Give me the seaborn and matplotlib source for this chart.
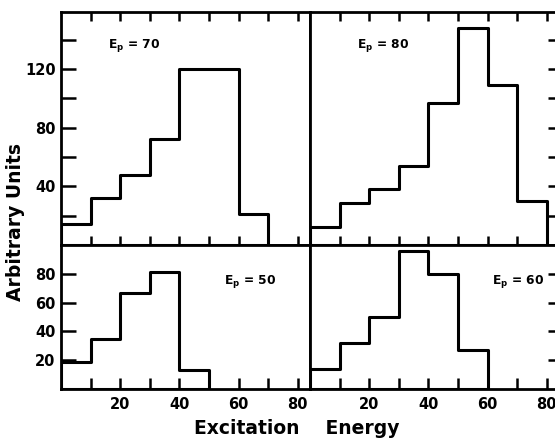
import numpy as np
import pandas as pd
import matplotlib
matplotlib.use("Agg")
import matplotlib.pyplot as plt
import seaborn as sns

sns.set_style("ticks")
plt.rcParams['font.family'] = ['DejaVu Sans']
plt.rcParams['mathtext.fontset'] = 'dejavusans'
plt.rcParams['text.color'] = 'black'
plt.rcParams['xtick.color'] = 'black'
plt.rcParams['ytick.color'] = 'black'
plt.rcParams['xtick.labelcolor'] = 'black'
plt.rcParams['ytick.labelcolor'] = 'black'

# ---- data (bin width 10, first bin starts at 0) ----
bin_width = 10
ep70 = [14, 32, 48, 72, 120, 120, 21]
ep80 = [12, 29, 38, 54, 97, 148, 109, 30]
ep50 = [19, 35, 67, 81, 13]
ep60 = [14, 32, 50, 96, 80, 27]

x_ticks = [10, 20, 30, 40, 50, 60, 70, 80]
x_labels = ["", "20", "", "40", "", "60", "", "80"]
top_major = [40, 80, 120]
top_minor = [20, 60, 100, 140]
bottom_major = [20, 40, 60, 80]

xlabel = "Excitation    Energy"
ylabel = "Arbitrary Units"

W, H = 555, 438
fig = plt.figure(figsize=(W / 100, H / 100), dpi=100)

def px_axes(x0, y0, x1, y1):
    return fig.add_axes([x0 / W, 1 - y1 / H, (x1 - x0) / W, (y1 - y0) / H])

ax_tl = px_axes(61, 12, 310, 245)
ax_tr = px_axes(310, 12, 559, 245)
ax_bl = px_axes(61, 245, 310, 389)
ax_br = px_axes(310, 245, 559, 389)

def draw(ax, vals):
    n = len(vals)
    centers = [bin_width * i + bin_width / 2 for i in range(n)]
    df = pd.DataFrame({"energy": centers, "counts": vals})
    sns.histplot(data=df, x="energy", weights="counts",
                 binwidth=bin_width, binrange=(0, n * bin_width),
                 element="step", fill=True, color="black", facecolor="none",
                 edgecolor="black", linewidth=2.2, ax=ax)
    ax.set_xlabel("")
    ax.set_ylabel("")
    ax.set_xlim(0, 84.1)
    for s in ax.spines.values():
        s.set_visible(True)
        s.set_linewidth(2.0)
        s.set_color("black")

draw(ax_tl, ep70)
draw(ax_tr, ep80)
draw(ax_bl, ep50)
draw(ax_br, ep60)

lab_font = dict(fontsize=10.5, fontweight="bold", color="black")

for ax in (ax_tl, ax_tr):
    ax.set_ylim(0, 159)
    ax.set_xticks(x_ticks)
    ax.tick_params(axis="x", which="both", top=True, bottom=True,
                   direction="in", length=6.5, width=1.8, color="black",
                   labelbottom=False, labeltop=False)
    ax.set_yticks(top_major)
    ax.set_yticks(top_minor, minor=True)

for ax in (ax_bl, ax_br):
    ax.set_ylim(0, 100)
    ax.set_xticks(x_ticks)
    ax.set_xticklabels(x_labels, **lab_font)
    ax.tick_params(axis="x", which="both", top=False, bottom=True,
                   direction="in", length=8, width=1.8, pad=6, color="black",
                   labelbottom=True)
    ax.set_yticks(bottom_major)

# left panels: y ticks on left with labels
ax_tl.set_yticklabels([str(v) for v in top_major], **lab_font)
ax_bl.set_yticklabels([str(v) for v in bottom_major], **lab_font)
for ax in (ax_tl, ax_bl):
    ax.tick_params(axis="y", which="both", left=True, right=False,
                   direction="in", length=11, width=1.8, pad=4, color="black")

# right panels: y ticks on right, no labels
for ax in (ax_tr, ax_br):
    ax.tick_params(axis="y", which="both", left=False, right=True,
                   direction="in", length=8, width=1.8, color="black",
                   labelleft=False, labelright=False)

ann = dict(fontsize=8.8, fontweight="bold", ha="center", va="center",
           color="black")
ax_tl.text(24.7, 136, r"$\mathbf{E_p}$ = 70", **ann)
ax_tr.text(24.7, 136, r"$\mathbf{E_p}$ = 80", **ann)
ax_bl.text(63.9, 75, r"$\mathbf{E_p}$ = 50", **ann)
ax_br.text(70.3, 75, r"$\mathbf{E_p}$ = 60", **ann)

fig.text(297 / W, 1 - 429 / H, xlabel, ha="center", va="center",
         fontsize=13.5, fontweight="bold", color="black")
fig.text(16 / W, 1 - 222 / H, ylabel, ha="center", va="center",
         rotation=90, fontsize=13.5, fontweight="bold", color="black")

fig.savefig("out.png", dpi=100)
